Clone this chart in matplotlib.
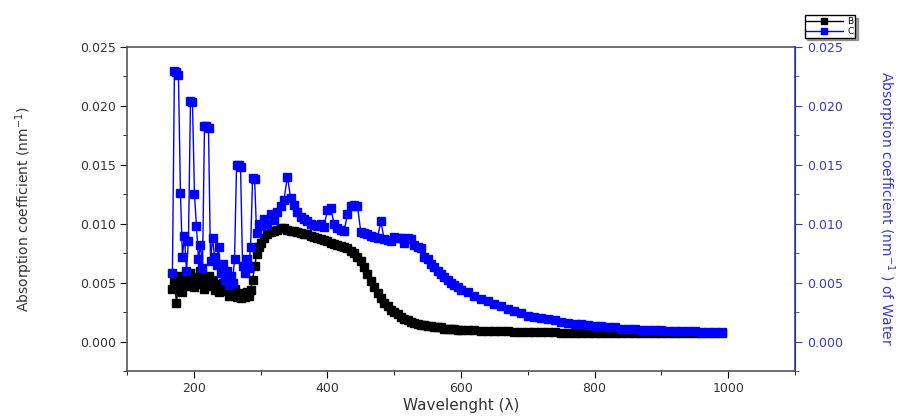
import matplotlib.pyplot as plt
from matplotlib.ticker import MultipleLocator

# wavelength grid (nm)
wl_a = list(range(168, 300, 3))
wl_b = list(range(300, 601, 5))
wl_c = list(range(610, 991, 10))
wavelength = wl_a + wl_b + wl_c

# series B (left axis)
b_a = [0.0045, 0.0052, 0.0033, 0.0048, 0.0056, 0.0042, 0.0050, 0.0054, 0.0047, 0.0058,
       0.0051, 0.0046, 0.0055, 0.0049, 0.0060, 0.0053, 0.0045, 0.0050, 0.0056, 0.0047,
       0.0052, 0.0044, 0.0049, 0.0042, 0.0046, 0.0050, 0.0043, 0.0047, 0.0039, 0.0044,
       0.0040, 0.0045, 0.0038, 0.0041, 0.0037, 0.0040, 0.0038, 0.0042, 0.0039, 0.0044,
       0.0052, 0.0064, 0.0074, 0.0080]
b_b = [0.0084, 0.0088, 0.0091, 0.0093, 0.0094, 0.0095, 0.0096, 0.0096, 0.0095, 0.0094,
       0.0094, 0.0093, 0.0092, 0.0091, 0.0091, 0.0090, 0.0089, 0.0088, 0.0087, 0.0086,
       0.0085, 0.0084, 0.0083, 0.0082, 0.0081, 0.0080, 0.0079, 0.0077, 0.0075, 0.0072,
       0.0068, 0.0063, 0.0057, 0.0051, 0.0046, 0.0041, 0.0037, 0.0033, 0.0030, 0.0027,
       0.0025, 0.0023, 0.0021, 0.0019, 0.0018, 0.0017, 0.0016, 0.0015, 0.0014, 0.0014,
       0.0013, 0.0013, 0.0012, 0.0012, 0.0012, 0.0011, 0.0011, 0.0011, 0.0011, 0.0010,
       0.0010]
b_c = [0.0010, 0.0010, 0.0009, 0.0009, 0.0009, 0.0009, 0.0009, 0.0008, 0.0008, 0.0008,
       0.0008, 0.0008, 0.0008, 0.0008, 0.0007, 0.0007, 0.0007, 0.0007, 0.0007, 0.0007,
       0.0007, 0.0007, 0.0007, 0.0007, 0.0007, 0.0007, 0.0007, 0.0007, 0.0007, 0.0007,
       0.0007, 0.0007, 0.0007, 0.0007, 0.0007, 0.0007, 0.0007, 0.0007, 0.0007]
series_b = b_a + b_b + b_c

# series C (right axis, water)
c_a = [0.0058, 0.0230, 0.0229, 0.0226, 0.0126, 0.0072, 0.0090, 0.0060, 0.0085, 0.0204,
       0.0203, 0.0125, 0.0098, 0.0070, 0.0082, 0.0062, 0.0183, 0.0183, 0.0181, 0.0068,
       0.0088, 0.0072, 0.0065, 0.0080, 0.0058, 0.0066, 0.0052, 0.0060, 0.0048, 0.0056,
       0.0050, 0.0070, 0.0150, 0.0150, 0.0148, 0.0064, 0.0058, 0.0070, 0.0062, 0.0080,
       0.0139, 0.0138, 0.0092, 0.0100]
c_b = [0.0098, 0.0104, 0.0100, 0.0108, 0.0103, 0.0110, 0.0115, 0.0120, 0.0140, 0.0122,
       0.0116, 0.0110, 0.0106, 0.0104, 0.0102, 0.0100, 0.0099, 0.0098, 0.0100, 0.0097,
       0.0112, 0.0113, 0.0100, 0.0096, 0.0095, 0.0094, 0.0108, 0.0115, 0.0116, 0.0115,
       0.0093, 0.0092, 0.0091, 0.0090, 0.0089, 0.0088, 0.0102, 0.0087, 0.0086, 0.0085,
       0.0089, 0.0088, 0.0088, 0.0084, 0.0088, 0.0087, 0.0082, 0.0080, 0.0079, 0.0072,
       0.0070, 0.0066, 0.0063, 0.0060, 0.0057, 0.0055, 0.0052, 0.0050, 0.0048, 0.0046,
       0.0044]
c_c = [0.0042, 0.0039, 0.0036, 0.0034, 0.0032, 0.0030, 0.0028, 0.0026, 0.0024, 0.0022,
       0.0021, 0.0020, 0.0019, 0.0018, 0.0017, 0.0016, 0.0015, 0.0015, 0.0014, 0.0013,
       0.0013, 0.0012, 0.0012, 0.0011, 0.0011, 0.0011, 0.0010, 0.0010, 0.0010, 0.0010,
       0.0009, 0.0009, 0.0009, 0.0009, 0.0009, 0.0008, 0.0008, 0.0008, 0.0008]
series_c = c_a + c_b + c_c

blue = "#0000ff"
axis_blue = "#3a3ab8"

plt.rcParams["font.family"] = ["DejaVu Sans"]

fig = plt.figure(figsize=(9.02, 4.19), dpi=100)
ax = fig.add_axes([0.1408, 0.1146, 0.7406, 0.7732])
ax2 = ax.twinx()

ax.plot(wavelength, series_b, color="black", marker="s", markersize=6, linewidth=1.0, label="B")
ax2.plot(wavelength, series_c, color=blue, marker="s", markersize=6, linewidth=1.0, label="C")

ax.set_xlim(100, 1100)
ax.set_ylim(-0.0025, 0.025)
ax2.set_ylim(-0.0025, 0.025)

ax.xaxis.set_major_locator(MultipleLocator(200))
ax.xaxis.set_minor_locator(MultipleLocator(100))
for a in (ax, ax2):
    a.yaxis.set_major_locator(MultipleLocator(0.005))
    a.yaxis.set_minor_locator(MultipleLocator(0.0025))
    a.yaxis.set_major_formatter(plt.FormatStrFormatter("%.3f"))

ax.tick_params(axis="both", which="major", direction="out", length=5, labelsize=9,
               labelcolor="#333333", pad=3)
ax.tick_params(axis="both", which="minor", direction="out", length=3)
ax2.tick_params(axis="y", which="major", direction="out", length=5, colors=axis_blue,
                labelsize=9, pad=4)
ax2.tick_params(axis="y", which="minor", direction="out", length=3, colors=axis_blue)

for s in ("left", "bottom", "top"):
    ax.spines[s].set_color("#555555")
    ax.spines[s].set_linewidth(1.2)
ax2.spines["right"].set_color(axis_blue)
ax2.spines["right"].set_linewidth(1.2)
for s in ("left", "bottom", "top"):
    ax2.spines[s].set_visible(False)

ax.set_xlabel("Wavelenght (\u03bb)", fontsize=11, color="#333333", labelpad=2)
ax.set_ylabel("Absorption coefficient (nm$^{-1}$)", fontsize=10, color="#333333",
              family=["Liberation Sans Narrow", "DejaVu Sans"], labelpad=32)
ax2.set_ylabel("Absorption coefficient (nm$^{-1}$ ) of Water", fontsize=10, color=axis_blue,
               family=["Liberation Sans Narrow", "DejaVu Sans"], rotation=270, labelpad=38)

h1, l1 = ax.get_legend_handles_labels()
h2, l2 = ax2.get_legend_handles_labels()
fig.legend(h1 + h2, l1 + l2, loc="upper right", bbox_to_anchor=(0.953, 0.975),
           fontsize=6.5, shadow=True, fancybox=False, edgecolor="black",
           handlelength=4, borderpad=0.2, labelspacing=0.1, handletextpad=0.5,
           markerscale=0.8)

fig.savefig("out.png", dpi=100)
